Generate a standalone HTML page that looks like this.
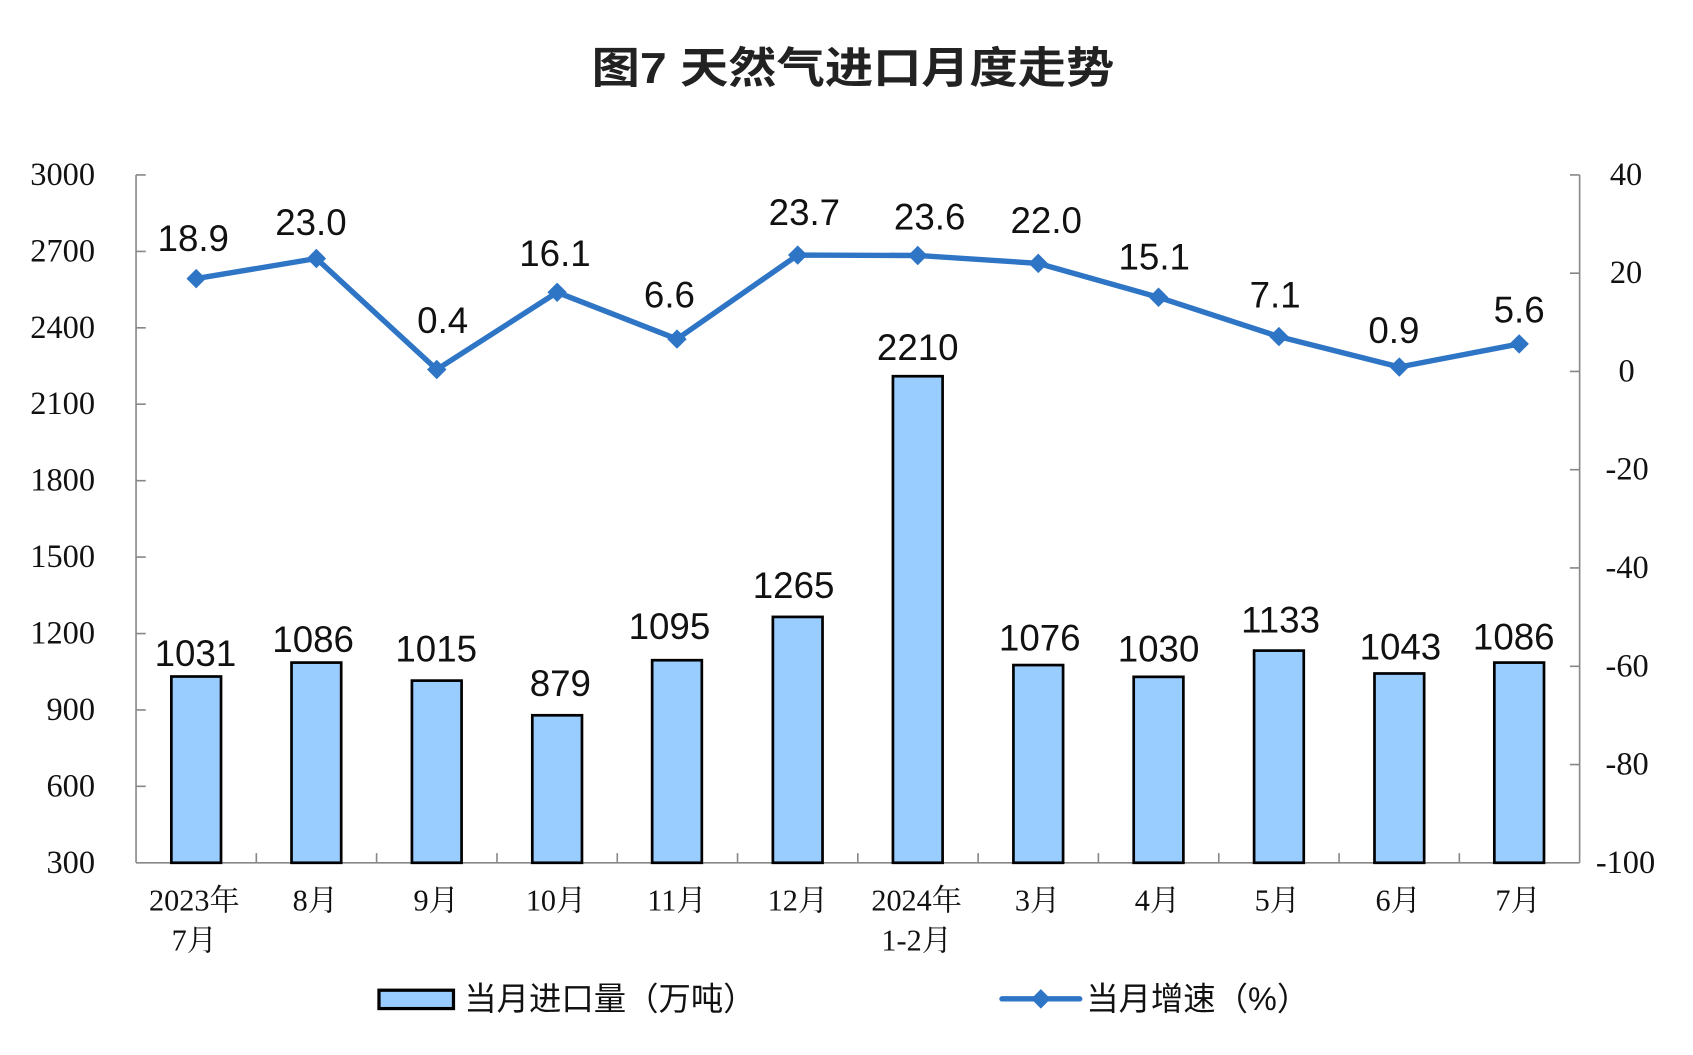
<!DOCTYPE html>
<html><head><meta charset="utf-8"><style>
html,body{margin:0;padding:0;background:#fff;width:1693px;height:1055px;overflow:hidden}
</style></head><body>
<svg width="1693" height="1055" viewBox="0 0 1568 977" preserveAspectRatio="none" xmlns="http://www.w3.org/2000/svg">
<text x="548" y="64" textLength="484" lengthAdjust="spacingAndGlyphs" dominant-baseline="central" font-family="'Liberation Sans','Noto Sans CJK SC',sans-serif" font-weight="bold" font-size="40" fill="#222">图7  天然气进口月度走势</text>
<g stroke="#888" stroke-width="1.5" fill="none">
<line x1="126" y1="162" x2="126" y2="799"/>
<line x1="1463" y1="162" x2="1463" y2="799"/>
<line x1="126" y1="799" x2="1463" y2="799"/>
<path d="M126 162h9M126 232.8h9M126 303.6h9M126 374.3h9M126 445.1h9M126 515.9h9M126 586.7h9M126 657.4h9M126 728.2h9"/>
<path d="M1454 162h9M1454 253h9M1454 344h9M1454 435h9M1454 526h9M1454 617h9M1454 708h9"/>
<path d="M237.4 799v-9M348.8 799v-9M460.3 799v-9M571.7 799v-9M683.1 799v-9M794.5 799v-9M905.9 799v-9M1017.3 799v-9M1128.8 799v-9M1240.2 799v-9M1351.6 799v-9"/>
</g>
<g font-family="'Liberation Serif',serif" font-size="30" fill="#111" dominant-baseline="central">
<g text-anchor="end">
<text x="88" y="162">3000</text><text x="88" y="232.8">2700</text><text x="88" y="303.6">2400</text><text x="88" y="374.3">2100</text><text x="88" y="445.1">1800</text><text x="88" y="515.9">1500</text><text x="88" y="586.7">1200</text><text x="88" y="657.4">900</text><text x="88" y="728.2">600</text><text x="88" y="799">300</text>
</g>
<g text-anchor="start">
<text x="1491" y="162">40</text><text x="1491" y="253">20</text><text x="1499" y="344">0</text><text x="1487" y="435">-20</text><text x="1487" y="526">-40</text><text x="1487" y="617">-60</text><text x="1487" y="708">-80</text><text x="1478" y="799">-100</text>
</g>
</g>
<g fill="#99CCFF" stroke="#000" stroke-width="2.5">
<rect x="158.7" y="626.5" width="46" height="172.5"/>
<rect x="270" y="613.6" width="46" height="185.4"/>
<rect x="381.5" y="630.3" width="46" height="168.7"/>
<rect x="493" y="662.4" width="46" height="136.6"/>
<rect x="604" y="611.4" width="46" height="187.6"/>
<rect x="715.8" y="571.3" width="46" height="227.7"/>
<rect x="827" y="348.4" width="46" height="450.6"/>
<rect x="938.6" y="615.9" width="46" height="183.1"/>
<rect x="1050" y="626.8" width="46" height="172.2"/>
<rect x="1161.5" y="602.5" width="46" height="196.5"/>
<rect x="1273" y="623.7" width="46" height="175.3"/>
<rect x="1384" y="613.6" width="46" height="185.4"/>
</g>
<polyline fill="none" stroke="#2E75C6" stroke-width="5" stroke-linejoin="round" points="181.7,258 293,239.4 404.5,342.2 516,270.7 627,314 738.8,236.2 850,236.6 961.6,243.9 1073,275.3 1184.5,311.7 1296,339.9 1407,318.5"/>
<g fill="#2E75C6">
<path d="M181.7 249l9 9-9 9-9-9z"/><path d="M293 230.4l9 9-9 9-9-9z"/><path d="M404.5 333.2l9 9-9 9-9-9z"/><path d="M516 261.7l9 9-9 9-9-9z"/><path d="M627 305l9 9-9 9-9-9z"/><path d="M738.8 227.2l9 9-9 9-9-9z"/><path d="M850 227.6l9 9-9 9-9-9z"/><path d="M961.6 234.9l9 9-9 9-9-9z"/><path d="M1073 266.3l9 9-9 9-9-9z"/><path d="M1184.5 302.7l9 9-9 9-9-9z"/><path d="M1296 330.9l9 9-9 9-9-9z"/><path d="M1407 309.5l9 9-9 9-9-9z"/>
</g>
<g font-family="'Liberation Sans',sans-serif" font-size="34" fill="#111" text-anchor="middle" dominant-baseline="central">
<text x="179" y="221">18.9</text><text x="288" y="206">23.0</text><text x="410" y="297">0.4</text><text x="514" y="235">16.1</text><text x="620" y="273">6.6</text><text x="745" y="197">23.7</text><text x="861" y="201">23.6</text><text x="969" y="204">22.0</text><text x="1069" y="238">15.1</text><text x="1181" y="273">7.1</text><text x="1291" y="306">0.9</text><text x="1407" y="287">5.6</text>
<text x="181" y="605">1031</text><text x="290" y="592">1086</text><text x="404" y="601">1015</text><text x="519" y="633">879</text><text x="620" y="580">1095</text><text x="735" y="542">1265</text><text x="850" y="322">2210</text><text x="963" y="591">1076</text><text x="1073" y="601">1030</text><text x="1186" y="574">1133</text><text x="1297" y="599">1043</text><text x="1402" y="590">1086</text>
</g>
<g font-family="'Liberation Serif','Noto Serif CJK SC',serif" font-size="28" fill="#111" text-anchor="middle" dominant-baseline="central">
<text x="180" y="834">2023年</text><text x="180" y="871">7月</text>
<text x="292" y="834">8月</text><text x="404" y="834">9月</text><text x="515" y="834">10月</text><text x="627" y="834">11月</text><text x="739" y="834">12月</text>
<text x="849" y="834">2024年</text><text x="849" y="871">1-2月</text>
<text x="961" y="834">3月</text><text x="1072" y="834">4月</text><text x="1183" y="834">5月</text><text x="1295" y="834">6月</text><text x="1406" y="834">7月</text>
</g>
<rect x="351" y="917" width="69" height="17" fill="#99CCFF" stroke="#000" stroke-width="3"/>
<line x1="928" y1="925" x2="1000" y2="925" stroke="#2E75C6" stroke-width="5" stroke-linecap="round"/>
<path d="M964 916l9 9-9 9-9-9z" fill="#2E75C6"/>
<g font-family="'Liberation Sans','Noto Sans CJK SC',sans-serif" font-size="30" fill="#111" dominant-baseline="central">
<text x="430" y="925">当月进口量（万吨）</text>
<text x="1006" y="925">当月增速（%）</text>
</g>
</svg>
</body></html>
